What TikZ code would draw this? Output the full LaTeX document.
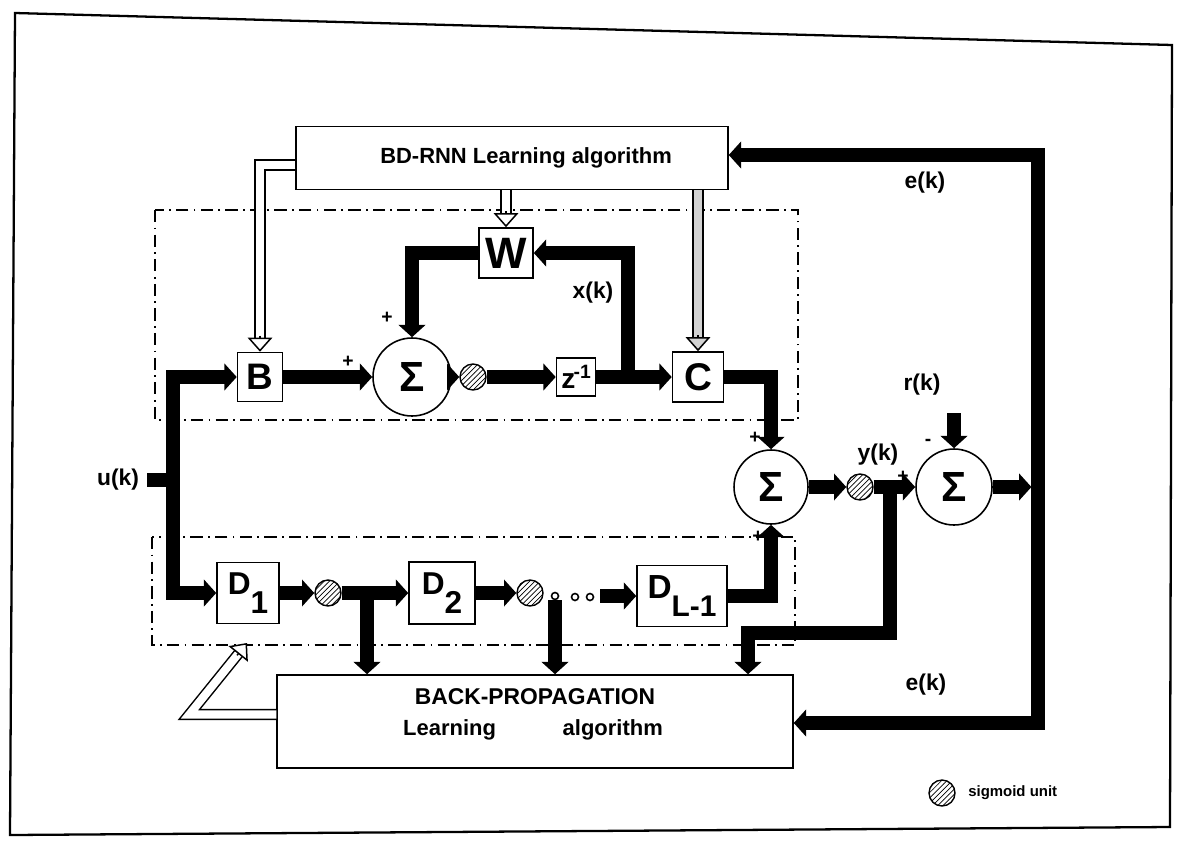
\documentclass[tikz,border=0pt]{standalone}
\usepackage{fontspec}
\setmainfont{Liberation Sans}
\usetikzlibrary{arrows.meta,patterns,calc}
\begin{document}
\begin{tikzpicture}[x=0.02cm,y=-0.02cm,
  font=\bfseries,
  blk/.style={draw,line width=0.9pt,inner sep=0pt},
  sumc/.style={circle,draw,line width=0.9pt,minimum size=#1,inner sep=0pt,font=\bfseries\fontsize{24}{24}\selectfont},
  sig/.style={circle,draw,line width=0.8pt,minimum size=0.52cm,inner sep=0pt,pattern=north east lines},
  pdot/.style={circle,draw,line width=0.9pt,minimum size=0.14cm,inner sep=0pt},
  flow/.style={line width=7.5pt,-{Triangle[length=7pt,width=15pt]}},
  bar/.style={line width=7.5pt},
  hol/.style={double=white,double distance=4.6pt,line width=0.85pt},
  htip/.style={line width=0.85pt,-{Triangle[length=8pt,width=14pt,fill=white]}},
  ddot/.style={dash pattern=on 7pt off 3pt on 1pt off 3pt,line width=0.8pt},
  lbl/.style={font=\bfseries\fontsize{13}{13}\selectfont,inner sep=1pt},
  pm/.style={font=\bfseries\fontsize{11}{11}\selectfont,inner sep=0pt}
]
\useasboundingbox (0,0) rectangle (1179,842);
% outer frame
\draw[line width=1.3pt] (15,13) -- (1172,45) -- (1170,827) -- (10,835) -- cycle;
% dash-dot groups
\draw[ddot] (155,210) rectangle (798,420);
\draw[ddot] (152,537) rectangle (795,645);

% blocks
\node[blk,minimum width=8.64cm,minimum height=1.26cm,font=\bfseries\fontsize{12.5}{12.5}\selectfont] (bd) at (512,158) {\hspace*{16pt}BD-RNN Learning algorithm};
\node[blk,minimum width=1.08cm,minimum height=1cm,font=\bfseries\fontsize{25}{25}\selectfont] (W) at (506,253) {W};
\node[blk,minimum width=0.9cm,minimum height=0.98cm,font=\bfseries\fontsize{21}{21}\selectfont] (B) at (260,377) {B};
\node[sumc=1.56cm] (s1) at (412,377) {Σ};
\node[sig] (g1) at (473,377) {};
\node[blk,minimum width=0.78cm,minimum height=0.76cm,font=\bfseries\fontsize{16}{16}\selectfont] (z) at (576,377) {z\kern-1pt\raisebox{6pt}{\fontsize{11}{11}\selectfont -1}};
\node[blk,minimum width=1.02cm,minimum height=1cm,font=\bfseries\fontsize{22}{22}\selectfont] (C) at (698,377) {C};
\node[sumc=1.48cm] (s2) at (771,487) {Σ};
\node[sig] (g3) at (860,487) {};
\node[sumc=1.52cm] (s3) at (954,487) {Σ};

\node[blk,minimum width=1.24cm,minimum height=1.22cm,font=\bfseries\fontsize{18}{18}\selectfont] (D1) at (248,593) {D\raisebox{-11pt}{1}};
\node[sig] (gA) at (328,593) {};
\node[blk,minimum width=1.32cm,minimum height=1.24cm,font=\bfseries\fontsize{18}{18}\selectfont] (D2) at (442,593) {D\raisebox{-11pt}{2}};
\node[sig] (gB) at (530,593) {};
\node[pdot] (p1) at (555,596) {};
\node[pdot] (p2) at (575,597) {};
\node[pdot] (p3) at (590,597) {};
\node[blk,minimum width=1.8cm,minimum height=1.22cm,font=\bfseries\fontsize{19}{19}\selectfont] (DL) at (682,596) {D\raisebox{-10pt}{\fontsize{17}{17}\selectfont L-1}};

\node[blk,minimum width=10.32cm,minimum height=1.86cm] (bp) at (535,721.5) {};
\node[font=\bfseries\fontsize{13}{13}\selectfont,inner sep=0pt] (bpt1) at (535,697) {BACK-PROPAGATION};
\node[font=\bfseries\fontsize{12.5}{12.5}\selectfont,inner sep=0pt] (bpt2) at (533,730) {Learning\hspace{38pt}algorithm};

% legend
\node[sig] (lg) at (942,793) {};
\node[anchor=west,font=\bfseries\fontsize{8.5}{8.5}\selectfont,inner sep=0pt] (lgt) at (968,793) {sigmoid unit};

% labels
\node[lbl] (uk) at (118,480) {u(k)};
\node[lbl] (xk) at (593,293) {x(k)};
\node[lbl] (ek1) at (925,183) {e(k)};
\node[lbl] (ek2) at (926,685) {e(k)};
\node[lbl] (yk) at (878,455) {y(k)};
\node[pm] (pl1) at (348,362) {+};
\node[pm] (pl2) at (387,318) {+};
\node[pm] (pl3) at (755,438) {+};
\node[pm] (pl4) at (758,537) {+};
\node[pm] (pl5) at (903,477) {+};
\node[pm] (mi1) at (928,442) {-};
\node[lbl] (rk) at (922,385) {r(k)};

% coordinates
\coordinate (uin) at (147,480);
\coordinate (uj) at (173,480);
\coordinate (xj) at (628,377);
\coordinate (yj) at (890,487);
\coordinate (yb) at (748,633);
\coordinate (ej) at (1038,487);
\coordinate (et) at (1038,155);
\coordinate (eb) at (1038,723);
\coordinate (rin) at (954,413);
\coordinate (aj) at (367,593);
\coordinate (dls) at (600,596);
\coordinate (hb) at ($(bd.west)+(0,7)$);
\coordinate (hp) at ($(bp.west)+(0,-7)$);
\coordinate (bpc) at ($(hp)+(-87,0)$);
\coordinate (btip) at (247,643);

% thick signal flows
\draw[bar] (uin) -- (uj);
\draw[flow] (uj) |- (B.west);
\draw[flow] (uj) |- (D1.west);
\draw[flow] (B) -- (s1);
\draw[flow] (s1) -- (g1);
\draw[flow] (g1) -- (z);
\draw[flow] (z) -- (C);
\draw[flow] (xj) |- (W.east);
\draw[flow] (W.west) -| (s1.north);
\draw[flow] (C.east) -| (s2.north);
\draw[flow] (DL.east) -| (s2.south);
\draw[flow] (s2) -- (g3);
\draw[flow] (g3) -- (s3);
\draw[flow] (yj) |- (yb) -- (yb |- bp.north);
\draw[flow,shorten >=3.75pt] (s3) -- (ej);
\draw[flow] (eb) -- (et) -- (et -| bd.east);
\draw[flow] (et) -- (eb) -- (eb -| bp.east);
\draw[flow] (rin) -- (s3.north);
\draw[flow] (D1) -- (gA);
\draw[flow] (gA) -- (D2);
\draw[flow] (aj) -- (aj |- bp.north);
\draw[flow] (D2) -- (gB);
\draw[flow] (dls) -- (DL.west);
\draw[flow] (p1.south) -- (p1.south |- bp.north);

% hollow (learning) arrows
\draw[hol,shorten >=7pt] (hb) -| (B.north);
\draw[htip] ($(B.north)+(0,-16)$) -- (B.north);
\draw[hol,shorten >=7pt] (W.north |- bd.south) -- (W.north);
\draw[htip] ($(W.north)+(0,-16)$) -- (W.north);
\draw[hol,double=gray!35,shorten >=7pt] (C.north |- bd.south) -- (C.north);
\draw[htip,-{Triangle[length=8pt,width=14pt,fill=gray!35]}] ($(C.north)+(0,-16)$) -- (C.north);
\draw[hol,shorten >=7pt] (hp) -- (bpc) -- (btip);
\draw[htip] ($(btip)!9pt!(bpc)$) -- (btip);
\end{tikzpicture}
\end{document}
